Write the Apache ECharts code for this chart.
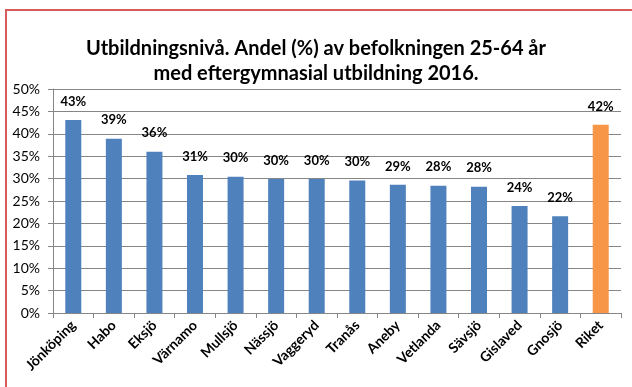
<!DOCTYPE html>
<html>
<head>
<meta charset="utf-8">
<script src="https://cdn.jsdelivr.net/npm/echarts@6/dist/echarts.min.js"></script>
<style>
  html, body { margin: 0; padding: 0; background: #fff; }
  #frame { position: absolute; left: 5px; top: 9px; width: 640px; height: 400px;
           border-left: 2px solid #d95a5a; border-top: 2px solid #d95a5a; }
  #chart { position: absolute; left: 0; top: 0; width: 632px; height: 387px; }
</style>
</head>
<body>
<div id="frame"></div>
<div id="chart"></div>
<script>
// Municipalities in Jönköping county, plus the national figure (Riket)
const kommuner = ['Jönköping', 'Habo', 'Eksjö', 'Värnamo', 'Mullsjö', 'Nässjö', 'Vaggeryd',
                  'Tranås', 'Aneby', 'Vetlanda', 'Sävsjö', 'Gislaved', 'Gnosjö', 'Riket'];
// Share (%) of population aged 25-64 with post-secondary education, 2016
const andel = [43.1, 38.9, 36.0, 30.8, 30.4, 29.9, 29.9, 29.6, 28.6, 28.4, 28.2, 23.9, 21.6, 42.0];
const yTicks = { min: 0, max: 50, interval: 5 };

const blue = '#4f81bd';
const orange = '#f79646';

const chart = echarts.init(document.getElementById('chart'));
chart.setOption({
  animation: false,
  title: {
    text: 'Utbildningsnivå. Andel (%) av befolkningen 25-64 år\nmed eftergymnasial utbildning 2016.',
    left: 'center',
    top: 31,
    textStyle: { fontFamily: 'Lato', fontWeight: 'bold', fontSize: 20, lineHeight: 25, color: '#000' }
  },
  grid: { left: 53, right: 11, top: 89, bottom: 74 },
  xAxis: {
    type: 'category',
    data: kommuner,
    axisLine: { lineStyle: { color: '#868686' } },
    axisTick: { show: true, alignWithLabel: false, length: 5, lineStyle: { color: '#868686' } },
    axisLabel: { rotate: 45, interval: 0, margin: 10, color: '#000',
                 fontFamily: 'Lato', fontWeight: 'bold', fontSize: 14 }
  },
  yAxis: {
    type: 'value',
    min: yTicks.min, max: yTicks.max, interval: yTicks.interval,
    axisLine: { show: true, lineStyle: { color: '#868686' } },
    axisTick: { show: true, length: 5, lineStyle: { color: '#868686' } },
    splitLine: { lineStyle: { color: '#868686' } },
    axisLabel: { formatter: '{value}%', margin: 13, color: '#000', fontFamily: 'Lato', fontSize: 14 }
  },
  series: [{
    type: 'bar',
    barWidth: 16,
    data: andel.map((v, i) => ({
      value: v,
      itemStyle: { color: kommuner[i] === 'Riket' ? orange : blue }
    })),
    label: {
      show: true, position: 'top', distance: 12,
      formatter: p => Math.round(p.value) + '%',
      color: '#000', fontFamily: 'Lato', fontWeight: 'bold', fontSize: 13
    }
  }]
});
</script>
</body>
</html>
